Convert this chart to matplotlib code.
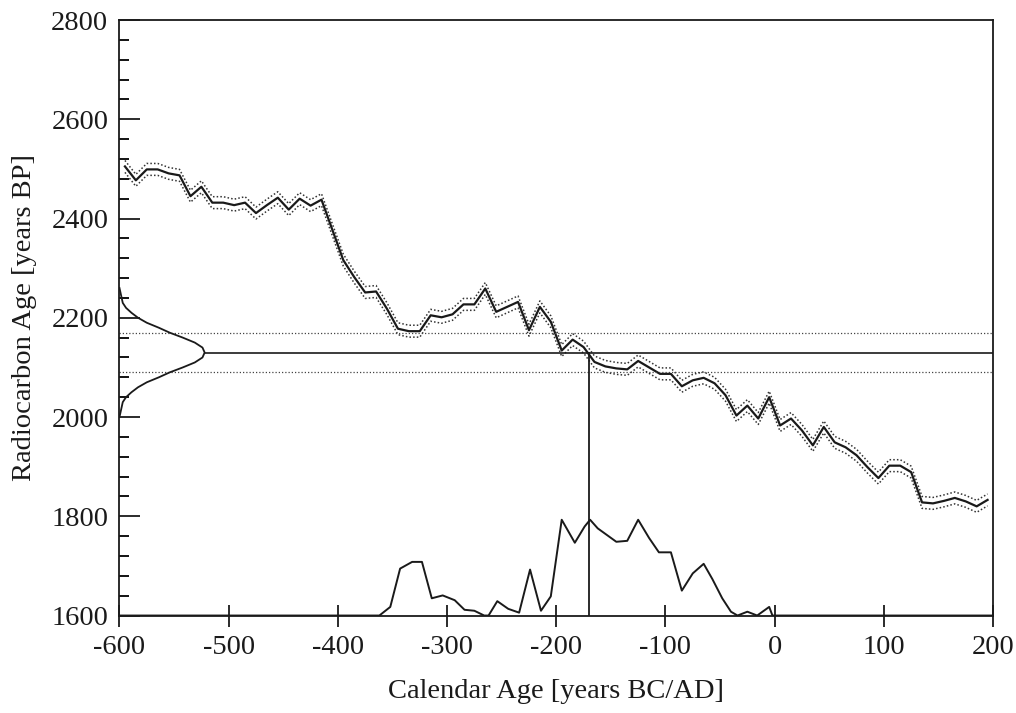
import numpy as np
import matplotlib
matplotlib.use("Agg")
import matplotlib.pyplot as plt
from matplotlib.ticker import MultipleLocator

# calibration curve (decadal points, years BC/AD) and its 1-sigma band
cal_years = np.arange(-595, 200, 10)
cal_c14 = [2505, 2477, 2499, 2499, 2491, 2487, 2445, 2464, 2432, 2432,
           2427, 2432, 2411, 2427, 2442, 2418, 2440, 2426, 2438, 2377,
           2316, 2282, 2251, 2253, 2218, 2178, 2173, 2173, 2205, 2201,
           2207, 2227, 2227, 2259, 2212, 2222, 2232, 2175, 2222, 2192,
           2134, 2156, 2141, 2111, 2102, 2098, 2096, 2113, 2100, 2087,
           2087, 2062, 2074, 2079, 2068, 2044, 2003, 2023, 1997, 2040,
           1983, 1997, 1973, 1943, 1980, 1949, 1939, 1923, 1899, 1877,
           1902, 1902, 1889, 1828, 1826, 1831, 1837, 1830, 1820, 1833]
cal_err = 12

# measured date: 2130 +/- 40 BP
date_c14 = 2130
date_err = 40
median_year = -170

# measured date distribution drawn on the radiocarbon axis
gauss_c14 = np.arange(2000, 2261, 10)
gauss_w = [0, 1, 2, 3, 6, 11, 17, 25, 36, 46, 58, 69, 76, 78,
           76, 69, 58, 46, 36, 25, 17, 11, 6, 3, 2, 1, 0]

# calibrated probability (% of maximum)
prob_years = [-600, -370, -362, -352, -343, -332, -323, -314, -304, -293,
              -284, -275, -266, -262, -254, -244, -234, -224, -214, -205,
              -195, -183, -174, -169, -162, -145, -135, -125, -115, -106,
              -95, -85, -75, -65, -57, -48, -40, -34, -25, -16,
              -5, -2, 200]
prob_pct = [0, 0, 0, 9, 49, 56, 56, 18, 21, 16,
            6, 5, 0, 0, 15, 7, 3, 48, 5, 20,
            100, 76, 93, 100, 91, 77, 78, 100, 81, 66,
            66, 26, 44, 54, 38, 18, 4, 0, 4, 0,
            9, 0, 0]

x_ticks = [-600, -500, -400, -300, -200, -100, 0, 100, 200]
y_ticks = [1600, 1800, 2000, 2200, 2400, 2600, 2800]

plt.rcParams['font.family'] = ['Liberation Serif', 'DejaVu Serif']
plt.rcParams['font.size'] = 20.5

fig = plt.figure(figsize=(10.16, 7.13), dpi=100)
ax = fig.add_axes([0.1176, 0.1367, 0.8598, 0.8352])

x0, x1 = -600, 200
y0, y1 = 1600, 2800
prob_scale = 1.93  # axis years per percent

cal = np.array(cal_c14)
dots = (0, (1, 1.4))
ax.plot(cal_years, cal, color='#1a1a1a', lw=1.6)
ax.plot(cal_years, cal + cal_err, color='#333333', lw=1.1, ls=dots)
ax.plot(cal_years, cal - cal_err, color='#333333', lw=1.1, ls=dots)

# measured date lines
peak = x0 + max(gauss_w)
ax.plot([peak, x1], [date_c14, date_c14], color='#1a1a1a', lw=1.2)
for yy in (date_c14 + date_err, date_c14 - date_err):
    ax.plot([x0, x1], [yy, yy], color='#444444', lw=0.9, ls=(0, (1, 1.6)))
ax.plot(x0 + np.array(gauss_w), gauss_c14, color='#1a1a1a', lw=1.3)

# calibrated distribution and median line
ax.plot(prob_years, y0 + prob_scale * np.array(prob_pct), color='#1a1a1a', lw=1.4)
ax.plot([median_year, median_year], [y0, date_c14], color='#1a1a1a', lw=1.3)

ax.set_xlim(x0, x1)
ax.set_ylim(y0, y1)
ax.set_xticks(x_ticks)
ax.set_xticklabels([str(t) for t in x_ticks])
ax.set_yticks(y_ticks)
ax.yaxis.set_minor_locator(MultipleLocator(40))

for s in ax.spines.values():
    s.set_linewidth(1.3)
    s.set_color('#1a1a1a')

ax.tick_params(axis='x', direction='inout', length=16, width=1.3, pad=6,
               colors='#1a1a1a')
ax.tick_params(axis='y', which='major', direction='in', length=15, width=1.3,
               pad=8, colors='#1a1a1a')
ax.tick_params(axis='y', which='minor', direction='in', length=7, width=1.3)

ax.set_xlabel('Calendar Age [years BC/AD]', labelpad=14, color='#1a1a1a')
ax.set_ylabel('Radiocarbon Age [years BP]', labelpad=10, color='#1a1a1a')

fig.savefig('out.png', dpi=100)
